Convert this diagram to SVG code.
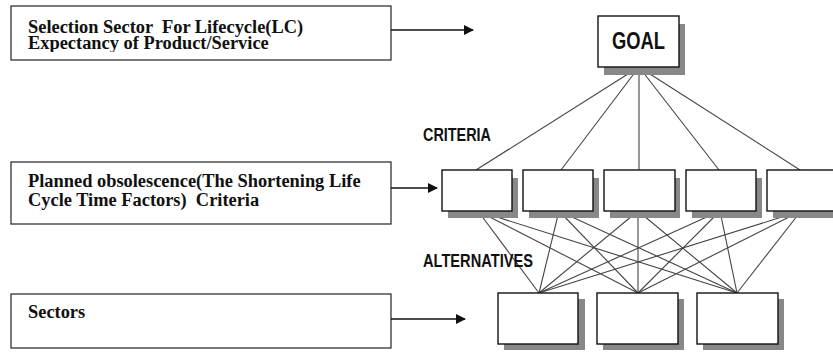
<svg xmlns="http://www.w3.org/2000/svg" width="833" height="355" viewBox="0 0 833 355">
  <style>
    .note { fill: #fff; stroke: #333; stroke-width: 1.3; }
    .note-text { font-family: "Liberation Serif", "Times New Roman", serif; font-weight: bold; font-size: 18.4px; fill: #111; }
    .box { fill: #fff; stroke: #111; stroke-width: 1.4; }
    .shadow { fill: #888; }
    .label { font-family: "Liberation Sans", Arial, sans-serif; font-weight: bold; fill: #111; }
    .link { stroke: #444; stroke-width: 1.1; fill: none; }
    .pointer { stroke: #111; stroke-width: 1.4; fill: none; marker-end: url(#head); }
  </style>
  <defs>
    <marker id="head" viewBox="0 0 10 10" refX="9" refY="5" markerWidth="10" markerHeight="10" markerUnits="userSpaceOnUse" orient="auto">
      <path d="M0,0 L10,5 L0,10 z" fill="#111"/>
    </marker>
    <clipPath id="clip-top">
      <rect x="11" y="6" width="380" height="46"/>
    </clipPath>
  </defs>

  <!-- left-hand explanation boxes -->
  <g id="note-lifecycle">
    <rect class="note" x="11" y="6" width="380" height="54"/>
    <g clip-path="url(#clip-top)">
      <text class="note-text" x="28" y="33" xml:space="preserve">Selection Sector  For Lifecycle(LC)</text>
      <text class="note-text" x="28" y="49">Expectancy of Product/Service</text>
    </g>
  </g>
  <g id="note-criteria">
    <rect class="note" x="11" y="162" width="380" height="62"/>
    <text class="note-text" x="28" y="187">Planned obsolescence(The Shortening Life</text>
    <text class="note-text" x="28" y="206" xml:space="preserve">Cycle Time Factors)  Criteria</text>
  </g>
  <g id="note-sectors">
    <rect class="note" x="11" y="294" width="380" height="54"/>
    <text class="note-text" x="28" y="318">Sectors</text>
  </g>

  <!-- connectors -->
  <g id="connectors">
    <line class="pointer" x1="391" y1="30" x2="473" y2="30"/>
    <line class="pointer" x1="391" y1="188" x2="437" y2="188"/>
    <line class="pointer" x1="391" y1="319" x2="465" y2="319"/>

    <!-- goal to criteria -->
    <line class="link" x1="639" y1="67" x2="476" y2="170"/>
    <line class="link" x1="639" y1="67" x2="561" y2="170"/>
    <line class="link" x1="639" y1="67" x2="639" y2="170"/>
    <line class="link" x1="639" y1="67" x2="719" y2="170"/>
    <line class="link" x1="639" y1="67" x2="800" y2="170"/>

    <!-- criteria to alternatives -->
    <line class="link" x1="478" y1="211" x2="539" y2="293"/>
    <line class="link" x1="478" y1="211" x2="638" y2="293"/>
    <line class="link" x1="478" y1="211" x2="737" y2="293"/>
    <line class="link" x1="559" y1="211" x2="539" y2="293"/>
    <line class="link" x1="559" y1="211" x2="638" y2="293"/>
    <line class="link" x1="559" y1="211" x2="737" y2="293"/>
    <line class="link" x1="638" y1="211" x2="539" y2="293"/>
    <line class="link" x1="638" y1="211" x2="638" y2="293"/>
    <line class="link" x1="638" y1="211" x2="737" y2="293"/>
    <line class="link" x1="720" y1="211" x2="539" y2="293"/>
    <line class="link" x1="720" y1="211" x2="638" y2="293"/>
    <line class="link" x1="720" y1="211" x2="737" y2="293"/>
    <line class="link" x1="801" y1="211" x2="539" y2="293"/>
    <line class="link" x1="801" y1="211" x2="638" y2="293"/>
    <line class="link" x1="801" y1="211" x2="737" y2="293"/>
  </g>

  <!-- level labels -->
  <text class="label" x="423" y="141" font-size="19" textLength="68" lengthAdjust="spacingAndGlyphs">CRITERIA</text>
  <text class="label" x="423" y="267" font-size="19" textLength="110" lengthAdjust="spacingAndGlyphs">ALTERNATIVES</text>

  <!-- goal -->
  <g id="goal">
    <rect class="shadow" x="604" y="24" width="81" height="51"/>
    <rect class="box" x="598" y="16" width="81" height="51"/>
    <text class="label" x="612" y="49" font-size="23" textLength="53" lengthAdjust="spacingAndGlyphs">GOAL</text>
  </g>

  <!-- criteria -->
  <g id="criterion-1">
    <rect class="shadow" x="448" y="178" width="70" height="40"/>
    <rect class="box" x="442" y="170" width="70" height="41"/>
  </g>
  <g id="criterion-2">
    <rect class="shadow" x="529" y="178" width="70" height="40"/>
    <rect class="box" x="523" y="170" width="70" height="41"/>
  </g>
  <g id="criterion-3">
    <rect class="shadow" x="610" y="178" width="70" height="40"/>
    <rect class="box" x="604" y="170" width="71" height="41"/>
  </g>
  <g id="criterion-4">
    <rect class="shadow" x="692" y="178" width="70" height="40"/>
    <rect class="box" x="686" y="170" width="70" height="41"/>
  </g>
  <g id="criterion-5">
    <rect class="shadow" x="773" y="178" width="70" height="40"/>
    <rect class="box" x="767" y="170" width="70" height="41"/>
  </g>

  <!-- alternatives -->
  <g id="alternative-1">
    <rect class="shadow" x="504" y="299" width="81" height="51"/>
    <rect class="box" x="498" y="293" width="80" height="51"/>
  </g>
  <g id="alternative-2">
    <rect class="shadow" x="603" y="299" width="81" height="51"/>
    <rect class="box" x="597" y="293" width="81" height="51"/>
  </g>
  <g id="alternative-3">
    <rect class="shadow" x="703" y="299" width="81" height="51"/>
    <rect class="box" x="697" y="293" width="81" height="51"/>
  </g>
</svg>
